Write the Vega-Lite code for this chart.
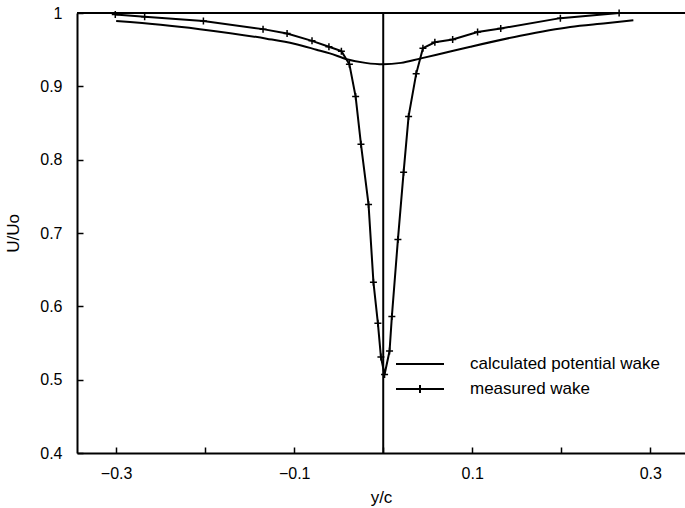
{
  "$schema": "https://vega.github.io/schema/vega-lite/v6.json",
  "width": 608,
  "height": 440,
  "autosize": {"type": "none"},
  "padding": {"left": 77, "top": 13, "right": 0, "bottom": 55},
  "background": "white",
  "config": {
    "view": {"stroke": null},
    "font": "Liberation Sans",
    "axis": {
      "grid": false,
      "domainColor": "black",
      "domainWidth": 2,
      "tickColor": "black",
      "tickWidth": 1.5,
      "tickSize": -6,
      "labelColor": "black",
      "labelFontSize": 16,
      "titleColor": "black",
      "titleFontSize": 17,
      "titleFontWeight": "normal"
    }
  },
  "data": {
    "values": [
      {"series": "calculated potential wake", "x": -0.300, "u": 0.989},
      {"series": "calculated potential wake", "x": -0.250, "u": 0.984},
      {"series": "calculated potential wake", "x": -0.206, "u": 0.978},
      {"series": "calculated potential wake", "x": -0.131, "u": 0.965},
      {"series": "calculated potential wake", "x": -0.100, "u": 0.958},
      {"series": "calculated potential wake", "x": -0.075, "u": 0.950},
      {"series": "calculated potential wake", "x": -0.060, "u": 0.945},
      {"series": "calculated potential wake", "x": -0.041, "u": 0.937},
      {"series": "calculated potential wake", "x": -0.020, "u": 0.932},
      {"series": "calculated potential wake", "x": 0.000, "u": 0.930},
      {"series": "calculated potential wake", "x": 0.020, "u": 0.932},
      {"series": "calculated potential wake", "x": 0.042, "u": 0.938},
      {"series": "calculated potential wake", "x": 0.060, "u": 0.943},
      {"series": "calculated potential wake", "x": 0.098, "u": 0.954},
      {"series": "calculated potential wake", "x": 0.154, "u": 0.969},
      {"series": "calculated potential wake", "x": 0.210, "u": 0.981},
      {"series": "calculated potential wake", "x": 0.250, "u": 0.986},
      {"series": "calculated potential wake", "x": 0.281, "u": 0.990},
      {"series": "measured wake", "x": -0.301, "u": 0.998},
      {"series": "measured wake", "x": -0.268, "u": 0.995},
      {"series": "measured wake", "x": -0.202, "u": 0.989},
      {"series": "measured wake", "x": -0.135, "u": 0.978},
      {"series": "measured wake", "x": -0.108, "u": 0.972},
      {"series": "measured wake", "x": -0.080, "u": 0.962},
      {"series": "measured wake", "x": -0.061, "u": 0.954},
      {"series": "measured wake", "x": -0.047, "u": 0.948},
      {"series": "measured wake", "x": -0.038, "u": 0.930},
      {"series": "measured wake", "x": -0.031, "u": 0.886},
      {"series": "measured wake", "x": -0.025, "u": 0.821},
      {"series": "measured wake", "x": -0.0165, "u": 0.739},
      {"series": "measured wake", "x": -0.011, "u": 0.633},
      {"series": "measured wake", "x": -0.006, "u": 0.577},
      {"series": "measured wake", "x": -0.0026, "u": 0.531},
      {"series": "measured wake", "x": 0.0015, "u": 0.507},
      {"series": "measured wake", "x": 0.0071, "u": 0.539},
      {"series": "measured wake", "x": 0.0097, "u": 0.586},
      {"series": "measured wake", "x": 0.0165, "u": 0.691},
      {"series": "measured wake", "x": 0.0229, "u": 0.783},
      {"series": "measured wake", "x": 0.0285, "u": 0.859},
      {"series": "measured wake", "x": 0.037, "u": 0.917},
      {"series": "measured wake", "x": 0.0446, "u": 0.952},
      {"series": "measured wake", "x": 0.058, "u": 0.960},
      {"series": "measured wake", "x": 0.078, "u": 0.964},
      {"series": "measured wake", "x": 0.106, "u": 0.974},
      {"series": "measured wake", "x": 0.132, "u": 0.979},
      {"series": "measured wake", "x": 0.199, "u": 0.993},
      {"series": "measured wake", "x": 0.265, "u": 1.000}
    ]
  },
  "layer": [
    {
      "data": {"values": [{}]},
      "mark": {"type": "rule", "color": "black", "strokeWidth": 2},
      "encoding": {"y": {"datum": 1}}
    },
    {
      "data": {"values": [{}]},
      "mark": {"type": "rule", "color": "black", "strokeWidth": 2},
      "encoding": {"x": {"datum": 0}}
    },
    {
      "transform": [{"filter": "datum.series === 'calculated potential wake'"}],
      "mark": {"type": "line", "interpolate": "monotone", "strokeWidth": 2},
      "encoding": {
        "x": {
          "field": "x", "type": "quantitative",
          "scale": {"domain": [-0.344, 0.339], "nice": false, "zero": false},
          "axis": {
            "title": "y/c",
            "values": [-0.3, -0.2, -0.1, 0, 0.1, 0.2, 0.3],
            "labelExpr": "abs(round(datum.value*10)) % 2 == 1 ? format(datum.value, '.1f') : ''",
            "labelPadding": 18,
            "titleY": 44,
            "titleBaseline": "middle"
          }
        },
        "y": {
          "field": "u", "type": "quantitative",
          "scale": {"domain": [0.4, 1], "nice": false, "zero": false},
          "axis": {
            "title": "U/Uo",
            "values": [0.4, 0.5, 0.6, 0.7, 0.8, 0.9, 1],
            "labelExpr": "datum.value == 1 ? '1' : format(datum.value, '.1f')",
            "labelPadding": 21,
            "titleX": -64,
            "titleY": 220,
            "titleAlign": "center",
            "titleBaseline": "middle"
          }
        },
        "color": {
          "field": "series", "type": "nominal",
          "scale": {"domain": ["calculated potential wake", "measured wake"], "range": ["black", "black"]},
          "legend": {
            "title": null,
            "orient": "none",
            "legendX": 332,
            "legendY": 340,
            "padding": 0,
            "symbolSize": 400,
            "symbolStrokeWidth": 2,
            "symbolFillColor": "transparent",
            "symbolStrokeColor": "black",
            "labelFontSize": 17,
            "labelColor": "black",
            "labelLimit": 0,
            "labelOffset": 39,
            "rowPadding": 6,
            "encode": {
              "symbols": {
                "update": {
                  "shape": [
                    {"test": "datum.value === 'measured wake'", "value": "M-2.4,0H2.4M0,-0.4V0.4"},
                    {"value": "M-2.4,0H2.4"}
                  ]
                }
              }
            }
          }
        }
      }
    },
    {
      "transform": [{"filter": "datum.series === 'measured wake'"}],
      "mark": {"type": "line", "strokeWidth": 2},
      "encoding": {
        "x": {"field": "x", "type": "quantitative"},
        "y": {"field": "u", "type": "quantitative"},
        "color": {"field": "series", "type": "nominal"}
      }
    },
    {
      "transform": [{"filter": "datum.series === 'measured wake'"}],
      "mark": {"type": "point", "shape": "M-1,0H1M0,-1V1", "size": 49, "filled": false, "stroke": "black", "strokeWidth": 1.5, "opacity": 1},
      "encoding": {
        "x": {"field": "x", "type": "quantitative"},
        "y": {"field": "u", "type": "quantitative"}
      }
    }
  ]
}
